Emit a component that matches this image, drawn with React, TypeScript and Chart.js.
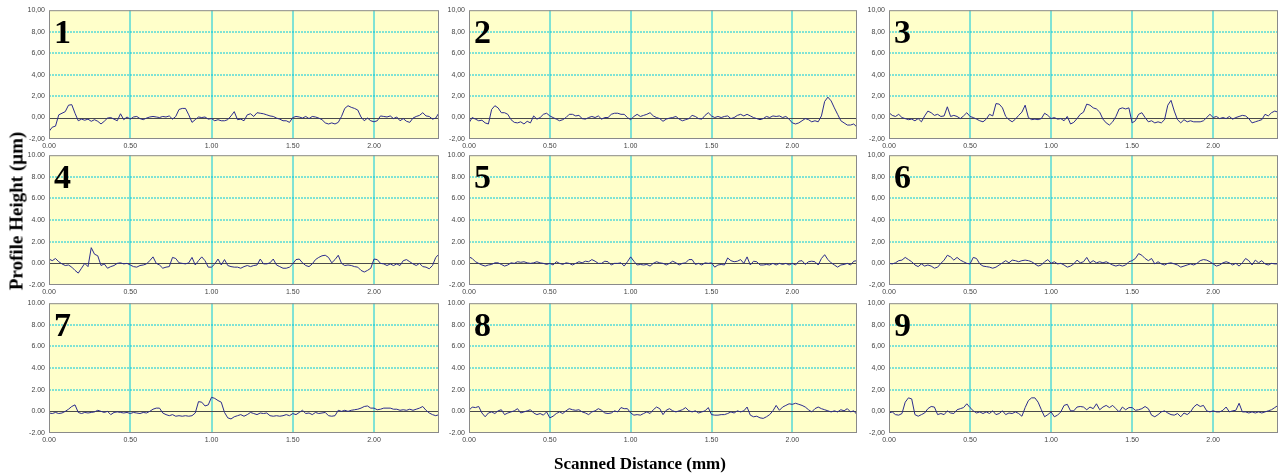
import React, { useEffect, useRef } from "react";
import { Chart, registerables } from "chart.js";

Chart.register(...registerables);

// Scan sampling and axis setup
const SAMPLE_STEP_MM = 0.02;
const X_MAX_MM = 2.4;
const Y_MIN_UM = -2;
const Y_MAX_UM = 10;
const X_TICKS = [0, 0.5, 1.0, 1.5, 2.0];
const Y_TICKS = [-2, 0, 2, 4, 6, 8, 10];

// Profile heights (µm), one sample every 0.02 mm from 0.00 to 2.40 mm
const PROFILE_1 = [
  -1.3, -0.9, -0.8, 0.25, 0.4, 0.55, 1.15, 1.2, 0.4, -0.3,
  -0.15, -0.25, -0.15, -0.35, -0.2, -0.35, -0.6, -0.35, -0.05, 0,
  -0.15, -0.3, 0.35, -0.2, 0.05, -0.15, 0.05, 0.1, -0.1, -0.2,
  -0.05, 0.05, 0.1, 0.05, 0, 0.1, 0.05, 0.15, -0.15, 0.1,
  0.75, 0.85, 0.85, 0.25, -0.45, -0.2, 0.05, 0, 0.05, -0.15,
  -0.1, -0.3, -0.2, -0.3, -0.3, -0.2, 0.15, 0.55, -0.2, -0.15,
  -0.3, 0.25, 0.35, 0.1, 0.45, 0.4, 0.35, 0.25, 0.15, 0.1,
  -0.05, -0.15, -0.3, -0.3, -0.45, 0, 0.1, 0.05, -0.05, 0.1,
  -0.1, 0.1, 0.05, -0.05, -0.2, -0.5, -0.6, -0.5, -0.6, -0.45,
  0.1, 0.85, 1.1, 0.95, 0.85, 0.7, 0.05, -0.3, -0.05, -0.3,
  -0.4, -0.3, 0.15, 0.1, 0.05, 0.15, -0.1, 0.05, -0.3, -0.1,
  -0.35, -0.45, -0.05, 0.1, 0.2, 0.45, 0.15, 0.1, -0.15, -0.05,
  0.45,
];
const PROFILE_2 = [
  -0.5, 0, -0.15, -0.3, -0.25, -0.5, -0.6, 0.75, 1.1, 0.9,
  0.45, 0.45, 0.3, -0.2, -0.45, -0.5, -0.4, -0.6, -0.35, -0.5,
  0.15, -0.15, 0, 0.3, 0.4, 0.15, 0, -0.15, -0.3, -0.2,
  0, 0.3, 0.3, 0.15, 0.2, -0.1, -0.15, 0, 0.1, 0,
  0.15, -0.15, 0, 0, 0.3, 0.4, 0.4, 0.3, 0.3, 0,
  -0.2, 0.1, 0.3, 0.1, 0.2, 0.3, 0.45, 0.15, 0, -0.1,
  -0.35, -0.15, -0.05, 0, 0.1, -0.15, -0.3, -0.2, -0.1, 0.2,
  0.1, -0.1, -0.15, 0.2, 0.45, 0.15, 0, 0.1, 0, 0.1,
  0.15, -0.1, 0, 0.2, 0.3, 0.15, 0.3, 0.15, 0, -0.1,
  -0.2, -0.1, 0.1, 0, 0.15, 0.1, 0.15, 0, 0.1, -0.15,
  -0.5, -0.6, -0.5, -0.3, -0.1, -0.2, -0.4, -0.3, -0.4, 0.15,
  1.5, 1.9, 1.55, 0.9, 0.3, -0.3, -0.5, -0.7, -0.7, -0.6,
  -0.9,
];
const PROFILE_3 = [
  0.45, 0.2, 0.1, 0.3, 0, -0.1, -0.2, -0.15, -0.3, -0.1,
  -0.4, 0.15, 0.6, 0.45, 0.2, 0.3, 0.1, 0.15, 1.0, 0.1,
  0.2, 0.1, -0.1, 0.15, 0.45, 0.1, 0, -0.15, -0.3, -0.4,
  -0.15, 0.3, 0.15, 1.3, 1.25, 0.9, 0.1, -0.2, -0.4, -0.15,
  0.2, 0.5, 1.15, 0, -0.2, -0.15, -0.2, -0.1, 0.4, 0.2,
  -0.1, 0, -0.15, -0.1, -0.3, 0.1, -0.6, -0.45, -0.1, 0.3,
  0.5, 1.25, 1.15, 0.9, 0.8, 0.5, -0.15, -0.5, -0.7, -0.4,
  0.1, 0.8, 0.9, 0.8, 0.9, -0.5, -0.3, 0.3, 0.45, 0,
  -0.4, -0.3, -0.5, -0.4, -0.5, -0.2, 1.15, 1.6, 0.6, -0.2,
  -0.5, -0.2, -0.4, -0.3, -0.4, -0.4, -0.4, -0.3, 0, 0.3,
  0, 0.1, -0.1, 0, -0.1, 0.1, -0.15, 0, 0.1, 0.2,
  0.15, -0.1, -0.5, -0.4, -0.3, -0.2, 0.3, 0.15, 0.45, 0.6,
  0.5,
];
const PROFILE_4 = [
  0.4, 0.25, 0.45, 0.15, -0.05, -0.2, -0.15, -0.35, -0.65, -0.9,
  -0.45, 0, -0.3, 1.45, 0.85, 0.7, -0.2, -0.05, -0.45, -0.3,
  -0.2, 0, 0.05, -0.05, 0, -0.15, -0.3, -0.35, -0.2, -0.15,
  -0.05, 0.25, 0.6, 0, -0.15, -0.45, -0.35, -0.3, 0.55, 0.45,
  0.05, 0, -0.05, 0.05, 0.55, -0.15, 0.25, 0.6, 0.25, -0.35,
  -0.35, -0.05, 0.4, -0.15, 0.35, -0.2, -0.3, -0.35, -0.35, -0.45,
  -0.3, -0.2, -0.3, -0.2, -0.15, 0.4, -0.05, -0.05, 0.05, 0.4,
  -0.15, -0.3, -0.45, -0.45, -0.35, -0.05, 0.35, 0.4, 0.05, -0.2,
  -0.3, -0.05, 0.35, 0.55, 0.7, 0.75, 0.55, 0.05, 0.35, 0.75,
  0, -0.2, -0.15, -0.2, -0.3, -0.35, -0.65, -0.8, -0.65, -0.45,
  0.4, 0.35, 0, -0.05, -0.2, -0.05, -0.2, -0.05, -0.2, 0.25,
  0.35, 0.15, -0.05, -0.2, 0, -0.3, -0.35, -0.5, -0.2, 0.55,
  0.85,
];
const PROFILE_5 = [
  0.6, 0.45, 0.15, 0, -0.15, -0.25, -0.15, -0.1, 0.05, 0.05,
  -0.1, -0.25, -0.15, 0.05, 0, 0.15, 0.1, 0.15, 0.05, 0,
  0.05, 0.15, 0.05, 0, -0.1, 0, -0.15, 0.15, 0, -0.1,
  0.05, 0, -0.15, 0, 0.15, 0.05, 0.2, 0.15, 0.35, 0.2,
  0, 0, 0.2, 0.15, -0.15, 0, 0, 0.05, -0.25, 0.15,
  0.6, 0.2, -0.15, -0.1, -0.15, -0.1, -0.25, 0, 0.15, 0.05,
  0, -0.15, 0, 0.2, 0.05, -0.15, 0, 0.05, 0.35, 0.35,
  -0.1, 0, -0.15, 0.05, 0, 0.05, -0.35, -0.15, -0.1, -0.15,
  0.5, 0.25, 0.15, 0.2, 0.35, 0, 0.6, -0.15, 0.2, 0.15,
  -0.15, -0.15, -0.1, -0.15, 0, -0.15, 0, -0.1, 0, -0.15,
  0, -0.15, 0.2, 0.25, -0.1, 0.15, 0.2, 0.15, -0.15, 0.45,
  0.8, 0.35, 0.05, -0.15, -0.35, -0.15, -0.1, 0, -0.15, 0.2,
  0.25,
];
const PROFILE_6 = [
  0, -0.05, 0.05, 0.25, 0.3, 0.55, 0.35, 0.15, -0.15, -0.3,
  -0.05, -0.25, -0.15, -0.25, -0.45, -0.35, 0, 0.3, 0.75, 0.6,
  0.3, 0.55, 0.3, 0.15, 0, -0.05, 0.55, 0.45, -0.05, -0.25,
  -0.3, -0.35, -0.45, -0.35, -0.15, 0.05, 0.25, 0.05, 0.3, 0.25,
  0.15, 0.25, 0.3, 0.25, 0.15, -0.05, -0.25, -0.15, 0.15, 0.35,
  0, 0.15, -0.05, 0, -0.15, -0.35, -0.25, -0.05, 0.3, 0.05,
  0.15, 0.55, 0.05, 0.25, 0.05, 0.15, 0.05, 0.15, 0, -0.15,
  -0.25, -0.15, -0.25, -0.15, 0.15, 0.25, 0.45, 0.9, 0.75, 0.45,
  0.25, 0.45, -0.05, 0.15, -0.05, -0.15, 0, 0.05, -0.05, -0.15,
  -0.35, -0.25, -0.15, -0.05, -0.15, 0, 0.25, 0.35, 0.3, 0.15,
  -0.05, -0.25, -0.15, 0.05, 0.15, 0.05, -0.15, 0, -0.25, 0.05,
  0.45, 0.25, -0.15, 0.3, 0.05, 0.25, -0.05, -0.15, 0, -0.05,
  -0.05,
];
const PROFILE_7 = [
  -0.15, -0.2, -0.1, -0.2, -0.15, 0, 0.2, 0.45, 0.6, -0.1,
  -0.2, -0.1, -0.15, -0.1, -0.05, 0.1, 0, -0.1, 0, -0.3,
  -0.1, -0.05, -0.1, -0.15, -0.1, -0.2, -0.1, -0.15, -0.2, -0.1,
  -0.15, 0, 0.2, 0.3, 0.3, -0.15, -0.3, -0.4, -0.3, -0.45,
  -0.4, -0.45, -0.4, -0.45, -0.4, -0.15, 0.9, 0.85, 0.5, 0.6,
  1.3, 1.2, 1.0, 0.85, -0.1, -0.6, -0.7, -0.5, -0.4, -0.3,
  -0.45, -0.3, -0.1, -0.2, -0.3, -0.15, -0.2, -0.15, -0.4, -0.45,
  -0.4, -0.45, -0.4, -0.3, -0.4, -0.2, -0.3, -0.1, 0.1, -0.2,
  -0.15, -0.3, -0.1, -0.2, -0.15, -0.1, -0.4, -0.45, -0.4, 0.1,
  0, 0.1, 0, 0.1, 0.15, 0.2, 0.3, 0.45, 0.5, 0.3,
  0.3, 0.15, 0.2, 0.3, 0.3, 0.3, 0.2, 0.2, 0.1, 0.15,
  0.1, 0.2, 0.1, 0.2, 0.3, 0.45, 0.1, -0.15, -0.3, -0.4,
  -0.3,
];
const PROFILE_8 = [
  0.1, 0.4, 0.35, 0.45, -0.15, -0.5, -0.15, -0.05, -0.2, 0.05,
  0.15, -0.3, -0.15, -0.05, 0.05, 0.25, -0.15, -0.05, 0.05, 0.15,
  -0.15, -0.3, -0.2, -0.35, -0.05, -0.6, -0.45, -0.2, -0.05, -0.2,
  0.05, 0.25, 0.15, 0.1, 0.15, -0.05, -0.15, -0.3, -0.05, 0.05,
  0.25, 0.1, -0.15, -0.2, -0.15, 0.05, -0.05, 0.35, 0.25, 0.25,
  -0.15, -0.35, -0.3, -0.35, -0.2, -0.05, -0.2, 0.15, 0.4, 0.25,
  -0.3, 0.1, 0.25, 0.05, -0.05, 0.05, 0.15, 0.35, 0.05, -0.05,
  0.05, -0.15, -0.05, 0.05, 0.35, -0.3, -0.35, -0.35, -0.3, -0.3,
  -0.2, -0.05, -0.15, 0.05, -0.05, 0.05, 0.4, -0.35, -0.5, -0.45,
  -0.6, -0.65, -0.5, -0.3, 0.05, 0.55, 0.1, 0.4, 0.55, 0.7,
  0.65, 0.75, 0.65, 0.55, 0.4, 0.15, -0.05, 0.25, 0.4, 0.25,
  0.15, 0.05, -0.05, 0.05, -0.05, 0.15, 0.05, 0.25, -0.05, 0.05,
  -0.3,
];
const PROFILE_9 = [
  -0.15, -0.05, -0.3, -0.35, -0.2, 0.85, 1.25, 1.15, -0.3, -0.45,
  -0.3, -0.15, 0.25, 0.45, 0.4, -0.3, -0.2, -0.3, 0.05, -0.15,
  -0.2, 0.15, 0.25, 0.35, 0.7, 0.35, 0.05, -0.15, -0.05, -0.2,
  -0.05, -0.2, 0.05, -0.3, -0.2, 0.05, -0.3, -0.15, -0.2, -0.05,
  -0.2, -0.45, 0.35, 1.0, 1.25, 1.25, 0.85, 0.15, -0.5, -0.3,
  -0.05, -0.5, -0.35, -0.05, 0.55, 0.65, 0.05, 0.05, 0.4, 0.45,
  0.4, 0.15, 0.4, 0.25, 0.7, 0.15, 0.4, 0.55, 0.35, 0.55,
  0.25, -0.05, 0.4, 0.15, 0.35, 0.35, 0.1, 0.15, 0.25, 0.45,
  0.25, -0.35, -0.5, -0.3, -0.05, 0.05, -0.15, -0.3, -0.35, -0.2,
  -0.5, -0.15, -0.3, -0.05, 0.4, 0.65, 0.45, 0.55, 0.05, -0.05,
  0.05, -0.05, -0.05, 0.1, 0.4, -0.05, 0.05, 0.1, 0.75, -0.05,
  -0.05, -0.15, -0.05, -0.15, -0.05, -0.15, -0.05, 0.05, 0.15, 0.35,
  0.55,
];

const PROFILES = [
  PROFILE_1, PROFILE_2, PROFILE_3,
  PROFILE_4, PROFILE_5, PROFILE_6,
  PROFILE_7, PROFILE_8, PROFILE_9,
];
const PANEL_LABELS = ["1", "2", "3", "4", "5", "6", "7", "8", "9"];
// Decimal separator used by each panel's height labels
const Y_DECIMAL = [",", ",", ",", ".", ".", ",", ".", ".", ","];

const Y_TITLE = "Profile Height (µm)";
const X_TITLE = "Scanned Distance (mm)";

// Grid of panels on the page
const COL_LEFT = [49, 469, 889];
const COL_WIDTH = [390, 388, 389];
const ROW_TOP = [10, 155, 303];
const ROW_HEIGHT = [129, 130, 130];
const AXIS_W = 45;
const AXIS_H = 16;
const PAD_TOP = 8;

const PLOT_BG = "#FFFFCA";
const GRID_COLOR = "#00C6DE";
const ZERO_COLOR = "#4a4a4a";
const FRAME_COLOR = "#8a8a8a";
const TRACE_COLOR = "#2C2C8E";
const TICK_COLOR = "#444444";
const TICK_FONT = { family: "'Liberation Sans', Arial, sans-serif", size: 7 };

function fmt(v: number, sep: string) {
  return v.toFixed(2).replace(".", sep);
}

function ProfilePanel({ index }: { index: number }) {
  const ref = useRef<HTMLCanvasElement>(null);
  const col = index % 3;
  const row = Math.floor(index / 3);
  const padRight = col === 2 ? 0 : 6;
  const left = COL_LEFT[col] - AXIS_W;
  const top = ROW_TOP[row] - PAD_TOP;
  const width = AXIS_W + COL_WIDTH[col] + padRight;
  const height = PAD_TOP + ROW_HEIGHT[row] + AXIS_H;

  useEffect(() => {
    const values = PROFILES[index];
    const points = values.map((v, i) => ({ x: +(i * SAMPLE_STEP_MM).toFixed(2), y: v }));
    const sep = Y_DECIMAL[index];

    // Plot background, tick-aligned grid, zero line, frame and panel number
    const panelDecor = {
      id: "panelDecor",
      beforeDraw(chart: any) {
        const { ctx, chartArea: a } = chart;
        ctx.save();
        ctx.fillStyle = PLOT_BG;
        ctx.fillRect(a.left, a.top, a.right - a.left, a.bottom - a.top);
        ctx.restore();
      },
      beforeDatasetsDraw(chart: any) {
        const { ctx, chartArea: a, scales } = chart;
        ctx.save();
        ctx.lineWidth = 1;
        ctx.strokeStyle = GRID_COLOR;
        ctx.setLineDash([]);
        for (const v of X_TICKS) {
          if (v <= 0) continue;
          const px = Math.round(scales.x.getPixelForValue(v));
          ctx.beginPath();
          ctx.moveTo(px, a.top);
          ctx.lineTo(px, a.bottom);
          ctx.stroke();
        }
        ctx.setLineDash([2, 1]);
        for (const v of Y_TICKS) {
          if (v <= Y_MIN_UM || v >= Y_MAX_UM || v === 0) continue;
          const py = Math.round(scales.y.getPixelForValue(v));
          ctx.beginPath();
          ctx.moveTo(a.left, py);
          ctx.lineTo(a.right, py);
          ctx.stroke();
        }
        ctx.setLineDash([]);
        ctx.strokeStyle = ZERO_COLOR;
        const y0 = Math.round(scales.y.getPixelForValue(0)) + 0.5;
        ctx.beginPath();
        ctx.moveTo(a.left, y0);
        ctx.lineTo(a.right, y0);
        ctx.stroke();
        ctx.restore();
      },
      afterDraw(chart: any) {
        const { ctx, chartArea: a } = chart;
        ctx.save();
        ctx.strokeStyle = FRAME_COLOR;
        ctx.lineWidth = 1;
        ctx.strokeRect(a.left + 0.5, a.top + 0.5, a.right - a.left - 1, a.bottom - a.top - 1);
        ctx.fillStyle = "#000";
        ctx.font = "bold 34px 'Liberation Serif', 'Times New Roman', serif";
        ctx.textBaseline = "alphabetic";
        ctx.textAlign = "left";
        ctx.fillText(PANEL_LABELS[index], a.left + 5, a.top + 33);
        ctx.restore();
      },
    };

    const chart = new Chart(ref.current as HTMLCanvasElement, {
      type: "line",
      data: {
        datasets: [
          {
            data: points,
            borderColor: TRACE_COLOR,
            borderWidth: 1,
            pointRadius: 0,
            tension: 0,
            fill: false,
          },
        ],
      },
      options: {
        animation: false,
        responsive: false,
        devicePixelRatio: 1,
        parsing: false,
        layout: { padding: { top: PAD_TOP, right: padRight, left: 0, bottom: 0 } },
        plugins: { legend: { display: false }, tooltip: { enabled: false } },
        scales: {
          x: {
            type: "linear",
            min: 0,
            max: X_MAX_MM,
            afterBuildTicks: (s: any) => {
              s.ticks = X_TICKS.map((v) => ({ value: v }));
            },
            afterFit: (s: any) => {
              s.height = AXIS_H;
            },
            grid: { display: false, drawTicks: false },
            border: { display: false },
            ticks: {
              padding: 3,
              color: TICK_COLOR,
              font: TICK_FONT,
              maxRotation: 0,
              autoSkip: false,
              callback: (v: any) => fmt(Number(v), "."),
            },
          },
          y: {
            type: "linear",
            min: Y_MIN_UM,
            max: Y_MAX_UM,
            afterBuildTicks: (s: any) => {
              s.ticks = Y_TICKS.map((v) => ({ value: v }));
            },
            afterFit: (s: any) => {
              s.width = AXIS_W;
            },
            grid: { display: false, drawTicks: false },
            border: { display: false },
            ticks: {
              padding: 4,
              color: TICK_COLOR,
              font: TICK_FONT,
              autoSkip: false,
              callback: (v: any) => fmt(Number(v), sep),
            },
          },
        },
      },
      plugins: [panelDecor],
    } as any);
    return () => chart.destroy();
  }, [index]);

  return (
    <canvas
      ref={ref}
      width={width}
      height={height}
      style={{ position: "absolute", left, top, width, height }}
    />
  );
}

export default function App() {
  const serif = "'Liberation Serif', 'Times New Roman', serif";
  return (
    <div
      style={{
        position: "absolute",
        left: 0,
        top: 0,
        width: 1278,
        height: 476,
        background: "#ffffff",
        overflow: "hidden",
      }}
    >
      {PROFILES.map((_, i) => (
        <ProfilePanel key={i} index={i} />
      ))}
      <div
        style={{
          position: "absolute",
          left: 16,
          top: 211,
          font: `bold 19px ${serif}`,
          lineHeight: "19px",
          whiteSpace: "nowrap",
          transform: "translate(-50%, -50%) rotate(-90deg)",
          color: "#000",
        }}
      >
        {Y_TITLE}
      </div>
      <div
        style={{
          position: "absolute",
          left: 640,
          top: 455,
          font: `bold 17px ${serif}`,
          lineHeight: "17px",
          whiteSpace: "nowrap",
          transform: "translateX(-50%)",
          color: "#000",
        }}
      >
        {X_TITLE}
      </div>
    </div>
  );
}
